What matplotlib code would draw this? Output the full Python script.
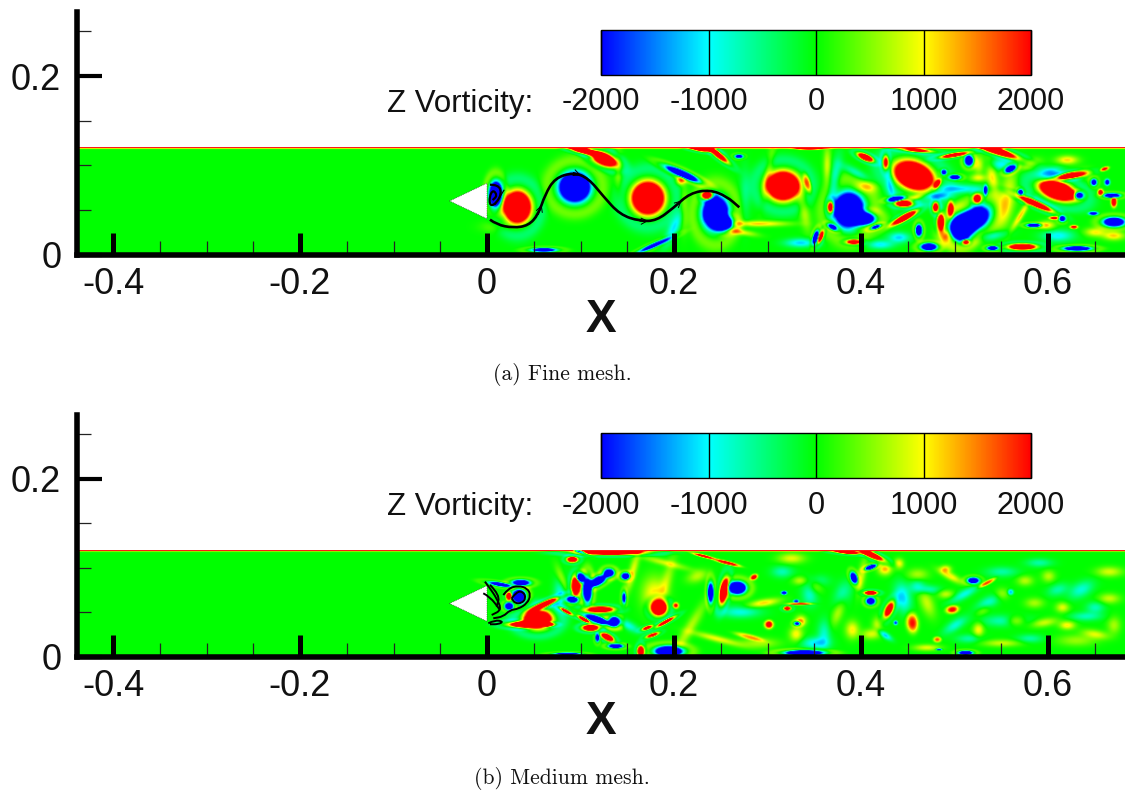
import numpy as np
import matplotlib
matplotlib.use('Agg')
import matplotlib.pyplot as plt
from matplotlib.colors import LinearSegmentedColormap, Normalize
from matplotlib.path import Path
from matplotlib.patches import PathPatch

W, H = 1125, 791
plt.rcParams['font.family'] = ['Liberation Sans', 'DejaVu Sans']
plt.rcParams['axes.unicode_minus'] = False

x_major = [-0.4, -0.2, 0, 0.2, 0.4, 0.6]
x_major_labels = ['-0.4', '-0.2', '0', '0.2', '0.4', '0.6']
x_minor = [-0.35, -0.3, -0.25, -0.15, -0.1, -0.05, 0.05, 0.1, 0.15, 0.25, 0.3, 0.35, 0.45, 0.5, 0.55, 0.65]
y_major = [0, 0.2]
y_major_labels = ['0', '0.2']
y_minor = [0.05, 0.1, 0.15, 0.25]
cbar_ticks = [-2000, -1000, 0, 1000, 2000]
cbar_labels = ['-2000', '-1000', '0', '1000', '2000']
channel_top = 0.1192
wall_vorticity = 2600
body_x = [-0.04, 0.0, 0.0]
body_y = [0.06, 0.08, 0.04]

# vortical structures: x, y, peak vorticity, size along, size across, tilt (deg)
fine_vortices = [
    (0.0317, 0.0521, 6000, .0130, .0160, 0), (0.0930, 0.0745, -6000, .0150, .0150, 0),
    (0.1714, 0.0622, 6000, .0155, .0165, 0), (0.2438, 0.0447, -6000, .0125, .0175, 0),
    (0.2527, 0.0335, -5000, .0085, .0065, 0), (0.0085, 0.0670, -6000, .0060, .0120, 0),
    (0.1244, 0.1062, 6000, .0125, .0060, -25), (0.1030, 0.1155, 5000, .0150, .0030, -15),
    (0.2082, 0.0894, -5000, .0170, .0033, -25), (0.2349, 0.0652, 5000, .0050, .0040, 0),
    (0.2456, 0.1117, 4000, .0130, .0028, -40), (0.2278, 0.1173, 4000, .0110, .0022, -10),
    (0.2688, 0.1091, -3000, .0040, .0020, 0), (0.3160, 0.0760, 6000, .0155, .0145, 0),
    (0.0600, 0.0040, -3500, .0120, .0020, 0), (0.1780, 0.0093, -3000, .0170, .0022, 25),
    (0.3419, 0.0790, 1900, .0035, .0105, 15), (0.4560, 0.0875, 6000, .0200, .0135, -25),
    (0.3865, 0.0484, -6000, .0145, .0180, 0), (0.4025, 0.0391, -5000, .0110, .0060, 0),
    (0.5184, 0.0373, -6000, .0180, .0110, 35), (0.5059, 0.0280, -6000, .0100, .0120, 0),
    (0.6093, 0.0708, 6000, .0180, .0090, -20), (0.6236, 0.0875, 5000, .0130, .0030, 10),
    (0.5861, 0.0559, 4500, .0175, .0030, -25), (0.3669, 0.0521, 4000, .0032, .0060, 0),
    (0.4043, 0.1080, 5000, .0080, .0030, -25), (0.4257, 0.1024, 3000, .0030, .0075, 0),
    (0.4453, 0.0559, 5000, .0080, .0030, 0), (0.4470, 0.0410, 4000, .0120, .0028, 30),
    (0.4792, 0.0521, 4000, .0030, .0050, 0), (0.4952, 0.0503, 2500, .0032, .0085, 0),
    (0.4845, 0.0354, 3500, .0032, .0085, 0), (0.5237, 0.0615, 3000, .0040, .0050, 0),
    (0.4988, 0.1106, 3800, .0130, .0020, 10), (0.5416, 0.1165, 5000, .0230, .0035, -20),
    (0.4810, 0.0782, 2500, .0030, .0060, -30), (0.5719, 0.0075, 5000, .0130, .0030, 0),
    (0.5113, 0.0130, 3000, .0035, .0025, 0), (0.3918, 0.0130, 4000, .0065, .0022, 0),
    (0.3562, 0.0186, 3500, .0022, .0065, -20), (0.6699, 0.0577, 2800, .0030, .0055, 0),
    (0.6271, 0.0298, 2500, .0040, .0020, 0), (0.6556, 0.0689, 2400, .0030, .0035, 0),
    (0.6060, 0.0400, 2400, .0050, .0020, 0), (0.4590, 0.1160, 3000, .0150, .0020, -5),
    (0.3440, 0.1180, 2800, .0140, .0015, 0), (0.6600, 0.0950, 2400, .0045, .0020, 20),
    (0.5148, 0.1043, -5000, .0040, .0050, 0), (0.5594, 0.0950, -5000, .0055, .0030, 30),
    (0.5000, 0.0857, -4000, .0050, .0022, 0), (0.4880, 0.0913, -3000, .0025, .0025, 0),
    (0.4364, 0.0615, -4000, .0075, .0022, 10), (0.4613, 0.0261, -5000, .0030, .0055, 0),
    (0.4720, 0.0075, -5000, .0075, .0035, 0), (0.5327, 0.0708, -2500, .0022, .0060, 0),
    (0.3508, 0.0186, -4500, .0024, .0065, -15), (0.3687, 0.0298, -3500, .0050, .0025, -30),
    (0.4150, 0.0298, -3500, .0055, .0020, 20), (0.5700, 0.0689, -3000, .0025, .0030, 0),
    (0.5843, 0.0317, -4500, .0065, .0018, 0), (0.6147, 0.0391, -3000, .0032, .0030, 0),
    (0.6325, 0.0652, -3500, .0045, .0035, 0), (0.6485, 0.0801, -3000, .0030, .0035, 0),
    (0.6680, 0.0652, -4500, .0075, .0022, 0), (0.6700, 0.0354, -5000, .0100, .0045, 0),
    (0.6307, 0.0056, -5000, .0125, .0022, 0), (0.6628, 0.0801, -2500, .0028, .0035, 0),
    (0.5400, 0.0060, -4000, .0050, .0020, 0), (0.6480, 0.0450, -2500, .0050, .0020, 0),
    (0.2064, 0.0820, 1200, .0035, .0030, 0), (0.2900, 0.0335, 900, .0220, .0020, 0),
    (0.2700, 0.0242, 800, .0120, .0020, -10), (0.1990, 0.0280, -800, .0040, .0130, -25),
    (0.3633, 0.0987, 650, .0030, .0130, 0), (0.3380, 0.0500, 600, .0040, .0150, 10),
    (0.5558, 0.0615, 750, .0060, .0200, -10), (0.5701, 0.0428, 900, .0022, .0120, -30),
    (0.5059, 0.0726, -800, .0200, .0030, 0), (0.4382, 0.0354, 1100, .0120, .0020, 30),
    (0.5986, 0.0317, 800, .0060, .0030, 0), (0.6500, 0.0240, 800, .0080, .0030, 0),
    (0.6200, 0.1050, 900, .0080, .0030, 0), (0.4800, 0.0650, -900, .0100, .0025, 0),
    (0.4300, 0.0800, -700, .0030, .0150, 10), (0.3950, 0.0900, -700, .0120, .0030, -30),
    (0.5400, 0.0850, 800, .0040, .0120, 10), (0.5800, 0.1000, 700, .0080, .0035, 20),
    (0.4550, 0.0620, 1000, .0100, .0020, 20), (0.5250, 0.0850, 700, .0060, .0025, 0),
    (0.3350, 0.0120, -900, .0120, .0030, 0), (0.4200, 0.0100, -800, .0100, .0030, 0),
    (0.5400, 0.0200, -700, .0120, .0030, 10), (0.0100, 0.0300, 300, .0120, .0040, 0),
    (0.1400, 0.0900, 500, .0030, .0150, 0), (0.2100, 0.0520, 500, .0030, .0150, 0),
    (0.3700, 0.0780, -800, .0040, .0180, -10), (0.4050, 0.0750, 700, .0090, .0040, 0),
    (0.4900, 0.0200, 800, .0060, .0040, 0), (0.4400, 0.0180, -900, .0080, .0035, 0),
    (0.5500, 0.1000, -800, .0100, .0040, 0), (0.6000, 0.0900, -800, .0100, .0035, 20),
    (0.6400, 0.0900, 700, .0060, .0035, 0), (0.6100, 0.0200, -800, .0120, .0040, 0),
    (0.5250, 0.1000, 700, .0040, .0060, 0), (0.6700, 0.0200, 900, .0080, .0030, 0),
    (0.3000, 0.0900, 500, .0030, .0200, -10), (0.2750, 0.0650, -350, .0040, .0200, 0),
]

medium_vortices = [
    (0.0335, 0.0677, -6000, .0060, .0065, 0), (0.0139, 0.0807, -3500, .0120, .0020, -10),
    (0.0353, 0.0826, -4500, .0085, .0030, 0), (0.0228, 0.0565, -5000, .0040, .0035, 0),
    (0.0228, 0.0677, 4000, .0028, .0035, 0), (0.0531, 0.0415, 6000, .0140, .0095, 0),
    (0.0602, 0.0583, 5000, .0150, .0028, 25), (0.0388, 0.0359, 5000, .0150, .0030, 0),
    (0.0638, 0.0359, 4000, .0065, .0018, 0), (0.0941, 0.0789, 5500, .0040, .0090, 0),
    (0.0905, 0.1088, 4500, .0050, .0028, 0), (0.0994, 0.0882, -5000, .0040, .0045, 0),
    (0.1066, 0.0752, -6000, .0040, .0120, 0), (0.1173, 0.0845, -5000, .0100, .0040, 30),
    (0.1297, 0.0938, -5000, .0050, .0040, 0), (0.1476, 0.0901, -5000, .0040, .0032, 0),
    (0.0905, 0.0639, -5000, .0050, .0030, 0), (0.1458, 0.0658, -3000, .0020, .0060, 0),
    (0.1173, 0.0415, -5000, .0125, .0030, -20), (0.1351, 0.0389, -6000, .0050, .0045, 0),
    (0.0977, 0.1181, -3500, .0080, .0018, -20), (0.1208, 0.0527, 5000, .0120, .0030, 0),
    (0.0834, 0.0509, 3500, .0075, .0018, -30), (0.1030, 0.0415, 3500, .0065, .0018, -30),
    (0.1101, 0.0322, 5500, .0075, .0030, 0), (0.1280, 0.0217, 5000, .0065, .0030, -30),
    (0.1636, 0.0060, 5000, .0030, .0050, 0), (0.1707, 0.0322, 3000, .0055, .0018, 20),
    (0.1761, 0.0240, 3000, .0065, .0018, 20), (0.1904, 0.0389, 3500, .0100, .0018, 30),
    (0.1832, 0.0546, 6000, .0070, .0070, -35), (0.2010, 0.0572, 2200, .0032, .0032, 0),
    (0.1369, 0.0116, -5000, .0065, .0020, 0), (0.1173, 0.0210, -3500, .0020, .0040, 0),
    (0.1939, 0.0060, -6000, .0130, .0050, 0), (0.0852, 0.0030, -3500, .0120, .0012, 0),
    (0.2527, 0.0733, 4500, .0038, .0130, -10), (0.2848, 0.0890, 2600, .0040, .0028, 30),
    (0.2670, 0.0770, -6000, .0080, .0060, 0), (0.2385, 0.0714, -4500, .0028, .0100, 0),
    (0.3008, 0.0359, 2400, .0045, .0045, 0), (0.1315, 0.1170, 6000, .0300, .0026, 0),
    (0.2563, 0.1050, 2800, .0130, .0018, -15), (0.2313, 0.1125, 2500, .0120, .0015, -15),
    (0.4097, 0.1144, 5000, .0130, .0028, -25), (0.3850, 0.1170, 4000, .0130, .0018, -5),
    (0.4097, 0.1002, -5000, .0055, .0020, 20), (0.3918, 0.0882, -5000, .0030, .0055, 20),
    (0.4097, 0.0621, -4500, .0042, .0035, 0), (0.4097, 0.0714, 4500, .0060, .0020, 0),
    (0.5195, 0.0852, -4000, .0055, .0030, 0), (0.5344, 0.0826, 1800, .0095, .0022, 30),
    (0.4293, 0.0527, 3200, .0038, .0090, -25), (0.4542, 0.0378, 2000, .0060, .0105, 5),
    (0.4970, 0.0527, 2100, .0065, .0042, 10), (0.3205, 0.0539, 3500, .0035, .0020, 0),
    (0.3348, 0.0591, 2500, .0130, .0012, 0), (0.3312, 0.0370, -3000, .0032, .0022, 0),
    (0.3170, 0.0714, -2800, .0030, .0020, 0), (0.4810, 0.0191, 1700, .0040, .0030, 0),
    (0.3300, 0.0620, -2200, .0030, .0018, 0), (0.3384, 0.0041, -6000, .0170, .0024, 0),
    (0.5113, 0.0041, -4500, .0065, .0020, 0), (0.4827, 0.0079, -2500, .0032, .0010, 0),
    (0.5594, 0.0722, -1300, .0032, .0032, 0), (0.4364, 0.0378, -1800, .0022, .0025, 0),
    (0.4440, 0.0660, -900, .0060, .0100, 10), (0.4250, 0.0240, -1000, .0060, .0020, -35),
    (0.1779, 0.0695, 850, .0090, .0120, 0), (0.1500, 0.0350, -700, .0100, .0030, -30),
    (0.1900, 0.0800, 500, .0040, .0200, -15), (0.2150, 0.0300, 550, .0040, .0220, -30),
    (0.1550, 0.0950, 700, .0030, .0150, -15), (0.0800, 0.0850, 700, .0030, .0100, 20),
    (0.0780, 0.0700, -700, .0050, .0120, 0), (0.2450, 0.0200, 750, .0180, .0022, -15),
    (0.2800, 0.0220, 1300, .0150, .0028, -15), (0.2700, 0.0500, -700, .0150, .0040, 0),
    (0.2950, 0.0600, 900, .0120, .0025, 10), (0.2900, 0.0150, 500, .0150, .0035, 0),
    (0.2240, 0.0900, 550, .0080, .0040, 20), (0.1900, 0.1050, 600, .0180, .0022, -15),
    (0.3250, 0.1100, 700, .0100, .0035, 0), (0.3500, 0.0850, -500, .0100, .0040, 0),
    (0.3350, 0.0400, 1000, .0040, .0035, 0), (0.3500, 0.0800, 650, .0050, .0060, 20),
    (0.3750, 0.0500, 550, .0040, .0100, -20), (0.3600, 0.0250, -600, .0050, .0100, 0),
    (0.3900, 0.0300, 800, .0050, .0060, 0), (0.4170, 0.0360, 600, .0040, .0050, 0),
    (0.4250, 0.0980, 1000, .0050, .0040, 0), (0.4400, 0.1040, 800, .0035, .0035, 0),
    (0.4600, 0.0920, 500, .0080, .0040, 0), (0.4950, 0.0900, 800, .0100, .0025, -30),
    (0.4900, 0.0980, 850, .0040, .0025, 0), (0.5100, 0.0700, -700, .0120, .0030, 30),
    (0.5000, 0.0350, -650, .0100, .0035, 35), (0.5350, 0.0600, -650, .0100, .0040, 30),
    (0.5250, 0.0300, 800, .0040, .0050, 0), (0.5550, 0.0400, -600, .0180, .0040, 0),
    (0.5650, 0.0400, 850, .0070, .0035, 0), (0.6200, 0.0350, 800, .0060, .0030, 0),
    (0.5950, 0.0380, 650, .0100, .0030, 10), (0.5850, 0.0600, 500, .0070, .0035, 0),
    (0.6150, 0.0550, 700, .0050, .0035, 0), (0.6500, 0.0250, 650, .0100, .0030, -10),
    (0.6650, 0.0950, 650, .0100, .0035, 0), (0.6350, 0.0750, -650, .0100, .0050, 30),
    (0.6400, 0.0450, -550, .0120, .0030, 0), (0.5500, 0.0950, -500, .0120, .0035, 0),
    (0.6000, 0.0900, 550, .0050, .0040, 0), (0.5900, 0.1050, -500, .0100, .0030, 0),
    (0.4700, 0.0100, 700, .0100, .0022, 0), (0.5500, 0.0150, 600, .0150, .0025, 0),
    (0.3500, 0.0150, -800, .0100, .0040, 0), (0.4000, 0.0900, 600, .0030, .0120, -10),
    (0.4700, 0.0600, 600, .0050, .0100, 20), (0.4700, 0.0750, -600, .0100, .0030, 0),
    (0.6300, 0.0180, 450, .0150, .0040, 0), (0.5300, 0.0520, 500, .0060, .0030, 30),
    (0.3150, 0.0950, -550, .0080, .0040, 0), (0.3350, 0.0850, 700, .0060, .0030, 0),
    (0.3300, 0.0250, 800, .0050, .0050, 0), (0.3450, 0.0700, -650, .0060, .0080, 0),
    (0.3800, 0.0700, -550, .0060, .0090, -20), (0.4100, 0.0250, 650, .0070, .0035, 0),
    (0.4600, 0.0800, -550, .0060, .0040, 0), (0.4900, 0.0700, 600, .0060, .0030, 0),
    (0.5150, 0.0200, -500, .0100, .0030, 0), (0.5500, 0.0700, 500, .0050, .0040, 0),
    (0.5750, 0.0850, 550, .0060, .0035, 0), (0.6100, 0.0750, -500, .0080, .0040, 20),
    (0.6650, 0.0650, 600, .0080, .0035, 0), (0.6500, 0.0550, -550, .0070, .0040, 0),
    (0.6700, 0.0350, 500, .0050, .0060, 0), (0.5800, 0.0200, -500, .0100, .0030, 0),
]

fine_streamline_x = [.0032, .0103, .0281, .0442, .0549, .0620, .0727, .0923, .1083, .1244, .1422, .1636, .1814, .1993, .2171, .2385, .2563, .2698]
fine_streamline_y = [.0391, .0335, .0298, .0324, .0447, .0670, .0857, .0920, .0857, .0652, .0447, .0373, .0380, .0521, .0689, .0726, .0652, .0529]
fine_loop_x = [.0032, .0121, .0157, .0103, .0032, .0025, .0067, .0110, .0060]
fine_loop_y = [.0782, .0782, .0689, .0577, .0540, .0652, .0726, .0660, .0610]
fine_spur_x = [.0085, .0185]
fine_spur_y = [.0559, .0726]
medium_lines = [
    ([.0174, .0228, .0335, .0431, .0467, .0431, .0335, .0246, .0174, .0067], [.0695, .0770, .0800, .0770, .0695, .0602, .0539, .0527, .0453, .0434]),
    ([.0264, .0317, .0388, .0417, .0370, .0299, .0264], [.0658, .0733, .0733, .0658, .0602, .0602, .0658]),
    ([-.0022, .0032, .0103, .0157, .0050], [.0845, .0770, .0658, .0527, .0471]),
    ([-.0040, .0032, .0139], [.0714, .0677, .0527]),
    ([.0032, .0139, .0103], [.0808, .0695, .0565]),
    ([.0014, .0085, .0174, .0121, .0032], [.0378, .0415, .0397, .0367, .0367]),
]

cmap = LinearSegmentedColormap.from_list('tecplot', ['#0000ff', '#00ffff', '#00ff00', '#ffff00', '#ff0000'], N=512)
cmap.set_bad('white')
norm = Normalize(-2000, 2000)


def px_axes(left, top, right, bottom):
    return fig.add_axes([left / W, 1 - bottom / H, (right - left) / W, (bottom - top) / H])


def vorticity(vortices, xmax, ymax):
    xs = np.linspace(-0.45, xmax, 1150)
    ys = np.linspace(0, ymax, 250)
    X, Y = np.meshgrid(xs, ys)
    Z = np.zeros_like(X)
    for x0, y0, w, a, b, ang in vortices:
        weak = abs(w) < 1300
        if weak:
            w, a, b = w * 1.3, a * 1.4, b * 1.6
        t = np.radians(ang)
        dx, dy = X - x0, Y - y0
        u = (dx * np.cos(t) + dy * np.sin(t)) / a
        v = (-dx * np.sin(t) + dy * np.cos(t)) / b
        r2 = u ** 2 + v ** 2
        Z += w * np.exp(-r2 ** (1.0 if weak else 1.4))
        if abs(w) >= 3000:
            Z -= 0.07 * w * np.exp(-((np.sqrt(r2) - 2.0) / 0.5) ** 2)
    Z += wall_vorticity * np.exp(-((Y - channel_top) / 0.0012) ** 2)
    Z[Y > channel_top + 0.0003] = np.nan
    return xs, ys, Z


def smooth(ax, xs, ys, lw=1.5):
    pts = np.column_stack([xs, ys])
    verts, codes = [pts[0]], [Path.MOVETO]
    for i in range(1, len(pts) - 1):
        verts += [pts[i], (pts[i] + pts[i + 1]) / 2]
        codes += [Path.CURVE3, Path.CURVE3]
    verts.append(pts[-1]); codes.append(Path.LINETO)
    ax.add_patch(PathPatch(Path(verts, codes), fc='none', ec='black', lw=lw, zorder=4))


def panel(top, bottom, vortices, cbar_top, caption, caption_y):
    ax = px_axes(76.5, top, W, bottom)
    xlim = ((76.5 - 487) / 935, (W - 487) / 935)
    ymax = (bottom - top) / 892
    xs, ys, Z = vorticity(vortices, xlim[1] + 0.01, ymax)
    im = ax.imshow(np.ma.masked_invalid(Z), extent=[xs[0], xs[-1], ys[0], ys[-1]], origin='lower',
                   cmap=cmap, norm=norm, aspect='auto', interpolation='bilinear', zorder=1)
    ax.fill(body_x, body_y, fc='white', ec='#333333', lw=0.5, ls=':', zorder=3)
    ax.set_xlim(xlim)
    ax.set_ylim(0, ymax)
    for s in ('top', 'right'):
        ax.spines[s].set_visible(False)
    for s in ('left', 'bottom'):
        ax.spines[s].set_linewidth(4)
        ax.spines[s].set_zorder(6)
    ax.set_xticks(x_major, x_major_labels)
    ax.set_yticks(y_major, y_major_labels)
    ax.set_xticks(x_minor, minor=True)
    ax.set_yticks(y_minor, minor=True)
    ax.tick_params(which='major', direction='in', length=16, width=3.6, labelsize=26, color='black', labelcolor='#111111')
    ax.tick_params(axis='x', which='major', pad=9)
    ax.tick_params(axis='y', which='major', pad=11, length=18, width=3)
    ax.tick_params(which='minor', direction='in', length=10, width=0.9, color='#222222')
    ax.set_xlabel('X', fontsize=33, fontweight='bold', labelpad=-3, color='#111111')

    cax = px_axes(601, cbar_top, 1031, cbar_top + 45)
    cb = fig.colorbar(im, cax=cax, orientation='horizontal')
    cb.set_ticks(cbar_ticks, labels=cbar_labels)
    cb.ax.minorticks_off()
    cb.ax.tick_params(direction='in', length=32.4, width=1, labelsize=22, pad=9, color='black', labelcolor='#111111')
    cb.outline.set_linewidth(1)
    fig.text(533 / W, 1 - (cbar_top + 74) / H, 'Z Vorticity:', fontsize=22.5, ha='right', va='center', color='#111111')
    fig.text(562 / W, 1 - caption_y / H, caption, family='cmr10', fontsize=15.6, ha='center', va='center', color='#111111')
    return ax


fig = plt.figure(figsize=(W / 100, H / 100), dpi=100, facecolor='white')
ax_a = panel(12, 254.5, fine_vortices, 30, '(a) Fine mesh.', 374)
smooth(ax_a, fine_streamline_x, fine_streamline_y, lw=1.9)
smooth(ax_a, fine_loop_x, fine_loop_y, lw=1.6)
smooth(ax_a, fine_spur_x, fine_spur_y, lw=0.8)
for i, j in [(4, 5), (7, 8), (11, 12), (13, 14)]:
    ax_a.annotate('', xy=((fine_streamline_x[i] + fine_streamline_x[j]) / 2, (fine_streamline_y[i] + fine_streamline_y[j]) / 2),
                  xytext=(fine_streamline_x[i], fine_streamline_y[i]),
                  arrowprops=dict(arrowstyle='->', mutation_scale=11, lw=0.7, color='black', shrinkA=0, shrinkB=0), zorder=5)

ax_b = panel(415, 657, medium_vortices, 433, '(b) Medium mesh.', 779)
for lx, ly in medium_lines:
    smooth(ax_b, lx, ly, lw=1.4)

fig.savefig('out.png', dpi=100, facecolor='white')
